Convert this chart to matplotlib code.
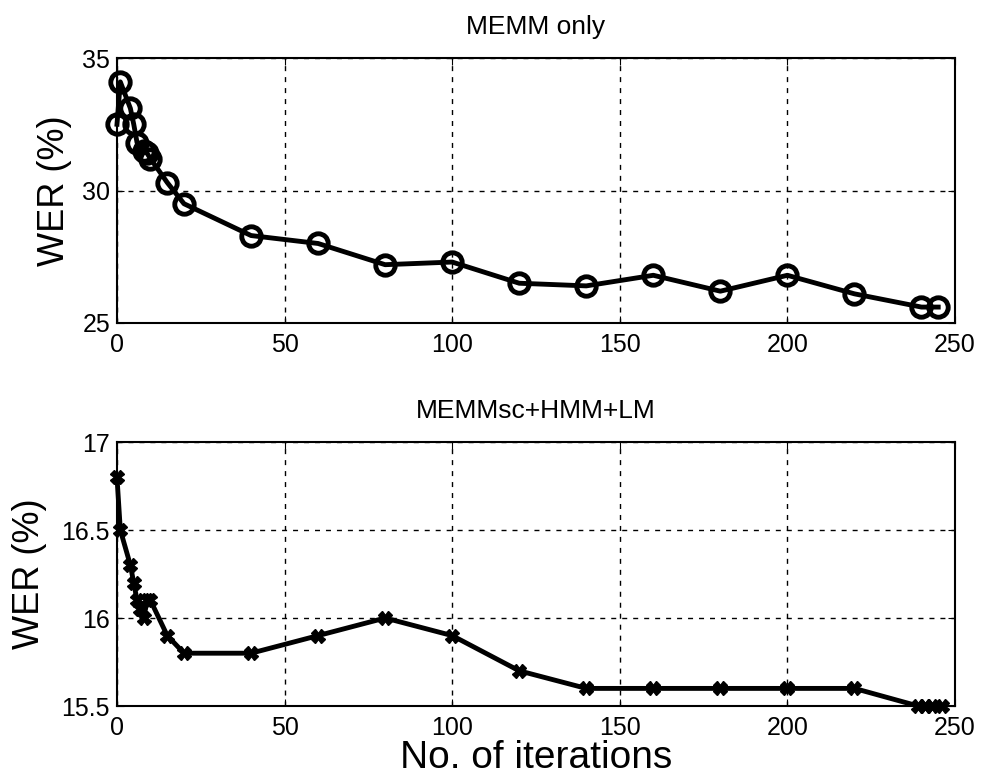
import numpy as np
import matplotlib.pyplot as plt

plt.rcParams['font.family'] = ['Liberation Sans', 'DejaVu Sans']

# MEMM only
it_top = [0, 1, 4, 5, 6, 8, 9, 10, 15, 20, 40, 60, 80, 100, 120, 140, 160, 180, 200, 220, 240, 245]
wer_top = [32.5, 34.1, 33.1, 32.5, 31.8, 31.5, 31.4, 31.2, 30.3, 29.5, 28.3, 28.0, 27.2, 27.3,
           26.5, 26.4, 26.8, 26.2, 26.8, 26.1, 25.6, 25.6]

# MEMMsc+HMM+LM
it_bot = [0, 1, 4, 5, 6, 7, 8, 9, 10, 15, 20, 40, 60, 80, 100, 120, 140, 160, 180, 200, 220,
          239, 241, 243, 246]
wer_bot = [16.8, 16.5, 16.3, 16.2, 16.1, 16.05, 16.0, 16.1, 16.1, 15.9, 15.8, 15.8, 15.9, 16.0,
           15.9, 15.7, 15.6, 15.6, 15.6, 15.6, 15.6, 15.5, 15.5, 15.5, 15.5]

fig = plt.figure(figsize=(9.83, 7.79), dpi=100)
ax1 = fig.add_axes([0.119, 0.5854, 0.8525, 0.3401])
ax2 = fig.add_axes([0.119, 0.0937, 0.8525, 0.3389])

ax1.plot(it_top, wer_top, color='black', lw=3.5, marker='o', ms=14,
         mfc='none', mec='black', mew=3.5, clip_on=False, zorder=3)
ax1.set_xlim(0, 250)
ax1.set_ylim(25, 35)
ax1.set_yticks([25, 30, 35])
ax1.set_title('MEMM only', fontsize=19, pad=17)
ax1.set_ylabel('WER (%)', fontsize=26)
ax1.yaxis.set_label_coords(-0.054, 0.5)

ax2.plot(it_bot, wer_bot, color='black', lw=3.5, marker='X', ms=10,
         mfc='black', mec='black', mew=1, clip_on=False, zorder=3)
ax2.set_xlim(0, 250)
ax2.set_ylim(15.5, 17)
ax2.set_yticks([15.5, 16, 16.5, 17])
ax2.set_yticklabels(['15.5', '16', '16.5', '17'])
ax2.set_title('MEMMsc+HMM+LM', fontsize=19, pad=17)
ax2.set_ylabel('WER (%)', fontsize=26)
ax2.yaxis.set_label_coords(-0.083, 0.5)
ax2.set_xlabel('No. of iterations', fontsize=28, labelpad=0)

for ax in (ax1, ax2):
    ax.set_xticks([0, 50, 100, 150, 200, 250])
    ax.grid(True, color='black', linestyle=(0, (3.6, 4.3)), lw=1)
    ax.tick_params(labelsize=18, direction='in', length=5, top=True, right=True)
    ax.tick_params(axis='x', pad=7)
    ax.tick_params(axis='y', pad=5)
    for s in ax.spines.values():
        s.set_linewidth(1.5)

fig.savefig('out.png', dpi=100)
